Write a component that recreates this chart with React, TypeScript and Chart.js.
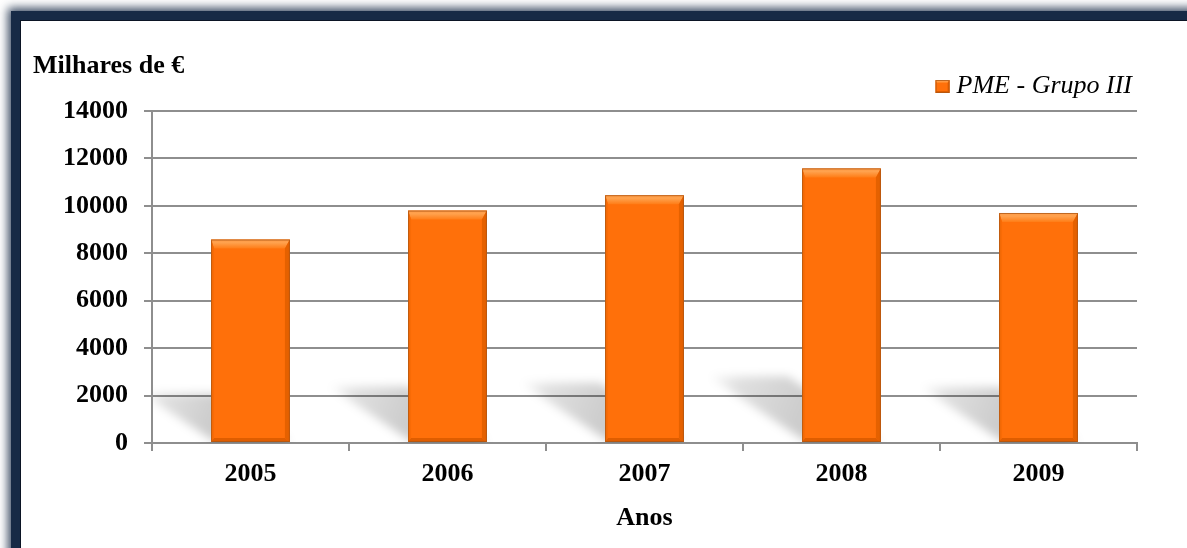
import React, { useEffect, useRef } from "react";
import { Chart, registerables } from "chart.js";

Chart.register(...registerables);

// ---- data ----
const categories: string[] = ["2005", "2006", "2007", "2008", "2009"];
const seriesValues: number[] = [8580, 9800, 10450, 11580, 9700];
const seriesLabel = "PME - Grupo III";
const yTicks: number[] = [0, 2000, 4000, 6000, 8000, 10000, 12000, 14000];
const yAxisHeader = "Milhares de €";
const xAxisTitle = "Anos";

const FONT = '"Liberation Serif", "Times New Roman", serif';
const GRID = "#8e8e8e";
const ORANGE = "#ff700a";

function drawBevelBar(ctx: CanvasRenderingContext2D, L: number, T: number, R: number, B: number, bt: number, bs: number, bl: number, bb: number, fillBase: boolean) {
  ctx.save();
  if (fillBase) {
    ctx.fillStyle = ORANGE;
    ctx.fillRect(L, T, R - L, B - T);
  }
  // top
  const g = ctx.createLinearGradient(0, T, 0, T + bt);
  g.addColorStop(0, "#ff9a45");
  g.addColorStop(0.35, "#ffa24e");
  g.addColorStop(1, "#ff7d17");
  ctx.fillStyle = g;
  ctx.beginPath();
  ctx.moveTo(L, T);
  ctx.lineTo(R, T);
  ctx.lineTo(R - bs, T + bt);
  ctx.lineTo(L + bl, T + bt);
  ctx.closePath();
  ctx.fill();
  // right
  ctx.fillStyle = "#e56100";
  ctx.beginPath();
  ctx.moveTo(R, T);
  ctx.lineTo(R, B);
  ctx.lineTo(R - bs, B - bb);
  ctx.lineTo(R - bs, T + bt);
  ctx.closePath();
  ctx.fill();
  // left
  ctx.fillStyle = "#f86b06";
  ctx.beginPath();
  ctx.moveTo(L, T);
  ctx.lineTo(L + bl, T + bt);
  ctx.lineTo(L + bl, B - bb);
  ctx.lineTo(L, B);
  ctx.closePath();
  ctx.fill();
  // bottom
  ctx.fillStyle = "#df5d00";
  ctx.beginPath();
  ctx.moveTo(L, B);
  ctx.lineTo(R, B);
  ctx.lineTo(R - bs, B - bb);
  ctx.lineTo(L + bl, B - bb);
  ctx.closePath();
  ctx.fill();
  // outline
  ctx.strokeStyle = "rgba(170,85,20,0.75)";
  ctx.lineWidth = 1;
  ctx.strokeRect(L + 0.5, T + 0.5, R - L - 1, B - T - 1);
  ctx.restore();
}

const decorPlugin = {
  id: "decor",
  beforeDatasetsDraw(chart: any) {
    const ctx: CanvasRenderingContext2D = chart.ctx;
    const area = chart.chartArea;
    const meta = chart.getDatasetMeta(0);
    ctx.save();
    ctx.beginPath();
    ctx.rect(area.left + 1, area.top, area.right - area.left, area.bottom - area.top);
    ctx.clip();
    meta.data.forEach((el: any) => {
      const p = el.getProps(["x", "y", "base", "width"], true);
      const L = p.x - p.width / 2;
      const R = p.x + p.width / 2;
      const B = p.base;
      const h = B - p.y;
      const dy = h * 0.24;
      const dx = h * 0.34;
      const g = ctx.createLinearGradient(L, B - dy * 0.4, L - dx, B - dy);
      g.addColorStop(0, "rgba(0,0,0,0.2)");
      g.addColorStop(0.7, "rgba(0,0,0,0.12)");
      g.addColorStop(1, "rgba(0,0,0,0.02)");
      ctx.save();
      (ctx as any).filter = "blur(5px)";
      ctx.fillStyle = g;
      ctx.beginPath();
      ctx.moveTo(L + 4, B);
      ctx.lineTo(L - dx, B - dy);
      ctx.lineTo(R - dx, B - dy);
      ctx.lineTo(R, B);
      ctx.closePath();
      ctx.fill();
      ctx.restore();
    });
    ctx.restore();
  },
  afterDatasetsDraw(chart: any) {
    const ctx: CanvasRenderingContext2D = chart.ctx;
    const meta = chart.getDatasetMeta(0);
    meta.data.forEach((el: any) => {
      const p = el.getProps(["x", "y", "base", "width"], true);
      drawBevelBar(ctx, p.x - p.width / 2, p.y, p.x + p.width / 2, p.base, 9, 5, 3, 4, false);
    });
  },
  afterDraw(chart: any) {
    const ctx: CanvasRenderingContext2D = chart.ctx;
    ctx.save();
    // y axis header
    ctx.fillStyle = "#000";
    ctx.font = `bold 26px ${FONT}`;
    ctx.textAlign = "left";
    ctx.textBaseline = "alphabetic";
    ctx.fillText(yAxisHeader, 33, 73);
    // legend
    ctx.font = `italic 26px ${FONT}`;
    ctx.textAlign = "right";
    const right = chart.chartArea.right - 5;
    ctx.fillText(seriesLabel, right, 93);
    const tw = ctx.measureText(seriesLabel).width;
    const bx = right - tw - 7 - 14;
    drawBevelBar(ctx, bx, 80, bx + 14, 93, 3, 2, 1, 2, true);
    ctx.restore();
  },
};

export default function App() {
  const ref = useRef<HTMLCanvasElement | null>(null);

  useEffect(() => {
    if (!ref.current) return;
    const chart = new Chart(ref.current, {
      type: "bar",
      data: {
        labels: categories,
        datasets: [
          {
            label: seriesLabel,
            data: seriesValues,
            backgroundColor: ORANGE,
            borderWidth: 0,
            categoryPercentage: 1,
            barPercentage: 0.4,
          },
        ],
      },
      options: {
        animation: false,
        responsive: false,
        maintainAspectRatio: false,
        layout: { padding: { left: 47, right: 50, top: 111, bottom: 14.6 } },
        plugins: {
          legend: { display: false },
          tooltip: { enabled: false },
          title: { display: false },
        },
        scales: {
          x: {
            offset: true,
            grid: {
              display: true,
              offset: true,
              drawOnChartArea: false,
              drawTicks: true,
              tickLength: 8,
              color: GRID,
              lineWidth: 2,
            },
            border: { display: true, color: GRID, width: 2 },
            ticks: {
              color: "#000",
              font: { family: FONT, size: 26, weight: "bold" },
              padding: 8,
              maxRotation: 0,
            },
            title: {
              display: true,
              text: xAxisTitle,
              color: "#000",
              font: { family: FONT, size: 26, weight: "bold" },
              padding: { top: 4, bottom: 0 },
            },
          },
          y: {
            min: 0,
            max: 14000,
            afterBuildTicks: (scale: any) => {
              scale.ticks = yTicks.map((v) => ({ value: v }));
            },
            grid: {
              display: true,
              drawOnChartArea: true,
              drawTicks: true,
              tickLength: 8,
              color: GRID,
              lineWidth: 2,
            },
            border: { display: true, color: GRID, width: 2 },
            ticks: {
              color: "#000",
              font: { family: FONT, size: 26, weight: "bold" },
              padding: 16,
              callback: (v: any) => String(v),
            },
          },
        },
      },
      plugins: [decorPlugin],
    });
    return () => chart.destroy();
  }, []);

  return (
    <div
      style={{
        position: "fixed",
        left: 0,
        top: 0,
        width: 1187,
        height: 548,
        overflow: "hidden",
        background: "#ffffff",
      }}
    >
      <div
        style={{
          position: "absolute",
          left: 11,
          top: 11,
          width: 1400,
          height: 800,
          border: "9px solid #172a46",
          boxShadow: "0 0 9px 3px rgba(23,42,70,0.85), inset 0 0 0 1px #0b1424",
          background: "#ffffff",
        }}
      />
      <canvas
        ref={ref}
        width={1187}
        height={548}
        style={{ position: "absolute", left: 0, top: 0, width: 1187, height: 548 }}
      />
    </div>
  );
}
